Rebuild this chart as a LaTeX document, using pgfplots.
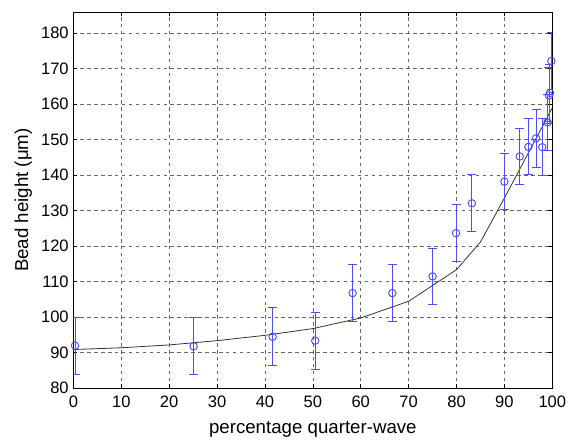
\documentclass[border=0pt]{standalone}
\usepackage{fontspec}
\setmainfont{Liberation Sans}
\usepackage{pgfplots}
\usepackage{pgfplotstable}
\pgfplotsset{compat=1.18}
\definecolor{mblue}{rgb}{0.3,0.3,1}
\pgfplotstableread{
x y e
0.35 92.0 8
25.1 91.8 8
41.6 94.5 8.2
50.5 93.4 8
58.3 106.8 8
66.6 106.8 8
75.0 111.5 8
79.9 123.7 8
83.2 132.1 8
90.0 138.2 7.9
93.2 145.3 7.9
95.0 148.0 7.9
96.6 150.4 8.1
97.9 147.9 8.0
99.0 154.9 8.0
99.3 162.5 8
99.5 163.2 8
99.8 172.2 8
}\meas
\pgfplotstableread{
x y
0 90.9
10 91.4
20 92.2
30 93.4
40 94.9
50 96.8
60 99.8
70 104.5
80 113.4
85 121.2
90 133.6
95 146.3
100 159.0
}\model
\begin{document}
\begin{tikzpicture}
\begin{axis}[
  scale only axis, width=359pt, height=282pt,
  xmin=0, xmax=100, ymin=80, ymax=186,
  xtick={0,10,...,100}, ytick={80,90,...,180},
  tick align=inside, tick pos=both, major tick length=3pt,
  xmajorgrids, ymajorgrids,
  grid style={black!60, dash pattern=on 2.6pt off 2.6pt, line width=0.5pt},
  axis line style={line width=0.6pt},
  every tick/.style={black, line width=0.5pt},
  tick label style={font=\fontsize{12.4}{14}\selectfont},
  label style={font=\fontsize{14}{16}\selectfont},
  /pgf/number format/assume math mode=true,
  xticklabel style={yshift=-2pt},
  xlabel style={yshift=-4pt},
  xlabel={percentage quarter-wave},
  ylabel={Bead height (μm)},
  clip mode=individual,
]
\addplot[black!80, line width=0.6pt] table[x=x, y=y] {\model};
\addplot[draw=mblue, only marks, mark=o, mark size=2.8pt, line width=0.7pt,
  mark options={draw=mblue, solid},
  error bars/.cd, y dir=both, y explicit,
  error bar style={draw=mblue, line width=0.7pt, solid},
  error mark options={draw=mblue, mark size=3.4pt, line width=0.7pt, rotate=90}]
  table[x=x, y=y, y error=e] {\meas};
\end{axis}
\path ([xshift=-55pt,yshift=-41.5pt]current axis.south west) rectangle ([xshift=17pt,yshift=9pt]current axis.north east);
\end{tikzpicture}
\end{document}
